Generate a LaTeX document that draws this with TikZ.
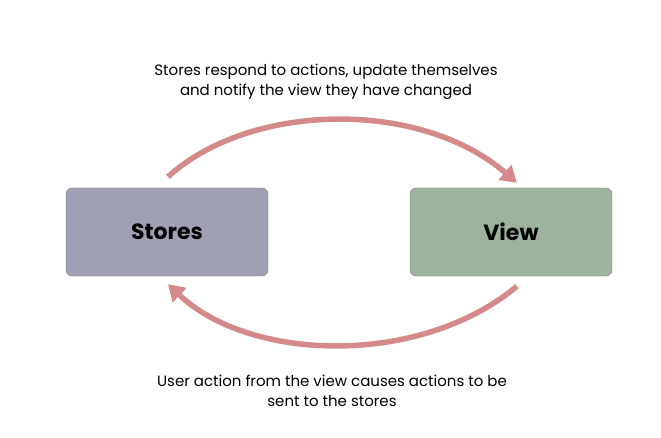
\documentclass[tikz,border=0pt]{standalone}
\usepackage{fontspec}
\setmainfont{Poppins}
\usepackage{xcolor}
\usetikzlibrary{arrows.meta,positioning,calc}
\definecolor{storesgray}{RGB}{160,160,181}
\definecolor{viewgreen}{RGB}{158,179,158}
\definecolor{boxedge}{RGB}{130,130,130}
\definecolor{flowred}{RGB}{212,138,138}

\begin{document}
\begin{tikzpicture}[
  x=1pt,y=1pt,
  box/.style={draw=boxedge,rounded corners=6pt,minimum width=202pt,
    minimum height=88pt,font=\fontsize{22}{24}\selectfont\bfseries},
  note/.style={align=center,font=\fontsize{15}{20}\selectfont},
  flow/.style={-{Triangle[length=16pt,width=19pt]},line width=5.5pt,flowred}
]
\useasboundingbox (0,0) rectangle (661,437);
\node[box,fill=storesgray] (stores) at (167,205) {Stores};
\node[box,fill=viewgreen] (view) at (511,205) {View};
\node[note] (top) at (326,355) {Stores respond to actions, update themselves\\and notify the view they have changed};
\node[note] (bottom) at (332,46) {User action from the view causes actions to be\\sent to the stores};
\draw[flow] ($(stores.north)+(1,11)$) .. controls (250,335) and (420,338) .. ($(view.north)+(6,5)$);
\draw[flow] ($(view.south)+(6,-10)$) .. controls (420,70) and (250,75) .. ($(stores.south)+(1,-8)$);
\end{tikzpicture}
\end{document}
